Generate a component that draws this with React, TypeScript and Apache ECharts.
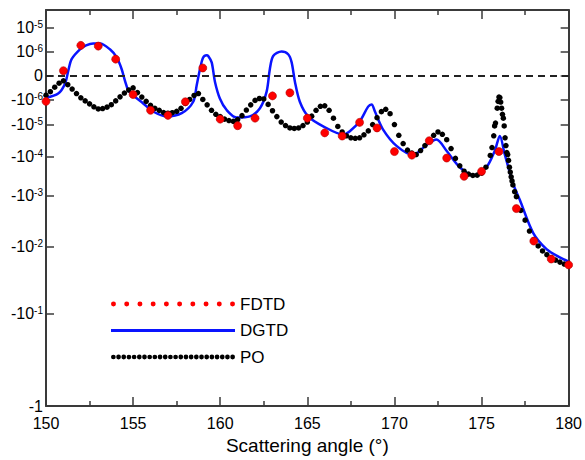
import React, { useEffect, useRef } from "react";
import * as echarts from "echarts";

const FONT = "'Liberation Sans', Arial, sans-serif";
const AXIS_COLOR = "#3a3a3a";

// ---- y axis: custom signed-log scale (tick values and their spacing along the axis) ----
const yTickValues = [1e-5, 1e-6, 0, -1e-6, -1e-5, -1e-4, -1e-3, -1e-2, -1e-1, -1];
const yTickLabels = ["10^-5", "10^-6", "0", "-10^-6", "-10^-5", "-10^-4", "-10^-3", "-10^-2", "-10^-1", "-1"];
const yTickSpacing = [385, 361, 336, 312, 286, 254, 214, 162, 94, 0];
const yAxisTop = 403;

// ---- x axis ----
const xMin = 150;
const xMax = 180;
const xStep = 5;

// ---- FDTD (red dots) ----
const fdtdAngle = [150, 151, 152, 153, 154, 155, 156, 157, 158, 159, 160, 161, 162, 163, 164, 165, 166, 167, 168, 169, 170, 171, 172, 173, 174, 175, 176, 177, 178, 179, 180];
const fdtdValue = [-1.19e-6, 2.1e-7, 1.78e-6, 1.66e-6, 6.8e-7, -7.9e-7, -2.65e-6, -4.2e-6, -1.23e-6, 3.2e-7, -5.9e-6, -1.05e-5, -5.4e-6, -8.5e-7, -7.2e-7, -5.4e-6, -1.78e-5, -2.25e-5, -7.9e-6, -1.24e-5, -6.98e-5, -9.1e-5, -3.16e-5, -1.1e-4, -3.2e-4, -2.4e-4, -6.98e-5, -1.78e-3, -7.7e-3, -1.52e-2, -1.86e-2];

// ---- DGTD (blue line) ----
const dgtdAngle = [150.0, 150.7, 151.09, 151.28, 151.47, 151.95, 152.3, 152.71, 153.1, 153.67, 154.06, 154.34, 154.53, 154.72, 155.0, 155.58, 156.15, 156.92, 157.79, 158.45, 158.65, 158.84, 159.02, 159.22, 159.31, 159.51, 159.7, 159.98, 160.37, 160.94, 161.7, 162.28, 162.66, 162.85, 163.04, 163.52, 163.9, 164.1, 164.29, 164.57, 165.05, 165.91, 167.06, 167.44, 168.01, 168.49, 168.69, 168.88, 169.35, 170.12, 171.07, 171.84, 172.41, 172.99, 173.75, 174.52, 175.28, 175.76, 176.05, 176.33, 176.81, 177.2, 177.96, 178.73, 179.49, 180.0];
const dgtdValue = [-9.3e-7, -7.5e-7, -3.3e-7, 2.1e-7, 6.8e-7, 1.21e-6, 1.78e-6, 2.15e-6, 2.15e-6, 1.21e-6, 7.5e-7, 2.8e-7, -2.0e-7, -6.1e-7, -8.2e-7, -1.43e-6, -2.97e-6, -4.6e-6, -3.45e-6, -1.23e-6, -4.0e-7, 2.8e-7, 7.5e-7, 8.4e-7, 8.1e-7, 5.5e-7, -2.6e-7, -9.6e-7, -2.6e-6, -5.1e-6, -4.6e-6, -2.2e-6, -6.8e-7, 2.8e-7, 8.1e-7, 9.9e-7, 8.8e-7, 5.5e-7, -2.6e-7, -1.23e-6, -4.6e-6, -1.1e-5, -2.0e-5, -1.57e-5, -7.2e-6, -1.91e-6, -1.56e-6, -2.97e-6, -1.4e-5, -4.6e-5, -8.9e-5, -4.3e-5, -2.9e-5, -6.6e-5, -1.88e-4, -3.04e-4, -1.88e-4, -6.6e-5, -2.25e-5, -8.5e-5, -4.9e-4, -1.21e-3, -5.3e-3, -1.08e-2, -1.44e-2, -1.66e-2];

// ---- PO (black dots) ----
const poAngle = [150, 150.25, 150.5, 150.75, 151, 151.25, 151.5, 151.75, 152, 152.25, 152.5, 152.75, 153, 153.25, 153.5, 153.75, 154, 154.25, 154.5, 154.75, 155, 155.25, 155.5, 155.75, 156, 156.25, 156.5, 156.75, 157, 157.25, 157.5, 157.75, 158, 158.25, 158.5, 158.75, 159, 159.25, 159.5, 159.75, 160, 160.25, 160.5, 160.75, 161, 161.25, 161.5, 161.75, 162, 162.25, 162.5, 162.75, 163, 163.25, 163.5, 163.75, 164, 164.25, 164.5, 164.75, 165, 165.25, 165.5, 165.75, 166, 166.25, 166.5, 166.75, 167, 167.25, 167.5, 167.75, 168, 168.25, 168.5, 168.75, 169, 169.25, 169.5, 169.75, 170, 170.25, 170.5, 170.75, 171, 171.25, 171.5, 171.75, 172, 172.25, 172.5, 172.75, 173, 173.25, 173.5, 173.75, 174, 174.25, 174.5, 174.75, 175, 175.25, 175.5, 175.6, 175.7, 175.75, 175.8, 175.9, 175.95, 176, 176.05, 176.1, 176.15, 176.2, 176.25, 176.3, 176.35, 176.4, 176.45, 176.5, 176.55, 176.6, 176.65, 176.7, 176.75, 176.8, 176.9, 177, 177.25, 177.5, 177.75, 178, 178.25, 178.5, 178.75, 179, 179.25, 179.5, 179.75, 180];
const poValue = [-8.2e-7, -6.7e-7, -4.8e-7, -3.1e-7, -2.1e-7, -3.75e-7, -5.6e-7, -7.5e-7, -9.3e-7, -1.14e-6, -1.49e-6, -1.94e-6, -2.36e-6, -2.28e-6, -2.0e-6, -1.6e-6, -1.14e-6, -8.9e-7, -7.3e-7, -6.0e-7, -5.1e-7, -7.1e-7, -9.0e-7, -1.19e-6, -1.7e-6, -2.22e-6, -2.65e-6, -3.25e-6, -3.45e-6, -3.3e-6, -2.9e-6, -2.22e-6, -1.43e-6, -1.0e-6, -8.3e-7, -7.5e-7, -1.0e-6, -1.63e-6, -2.65e-6, -3.8e-6, -4.7e-6, -5.9e-6, -6.7e-6, -7.2e-6, -6.1e-6, -4.3e-6, -2.6e-6, -1.63e-6, -1.09e-6, -9.6e-7, -9.8e-7, -1.56e-6, -2.77e-6, -4.7e-6, -7.7e-6, -1.04e-5, -1.24e-5, -1.29e-5, -1.24e-5, -1.04e-5, -7.7e-6, -4.5e-6, -2.65e-6, -1.86e-6, -1.78e-6, -2.65e-6, -5.4e-6, -1.11e-5, -1.66e-5, -2.2e-5, -2.55e-5, -2.64e-5, -2.55e-5, -2.05e-5, -1.54e-5, -9.6e-6, -5.2e-6, -3.0e-6, -2.43e-6, -3.6e-6, -9.6e-6, -2.13e-5, -3.9e-5, -6.3e-5, -7.8e-5, -8.7e-5, -6.5e-5, -4.5e-5, -3.05e-5, -2.13e-5, -1.66e-5, -1.98e-5, -2.94e-5, -5.6e-5, -1.12e-4, -1.73e-4, -2.37e-4, -2.82e-4, -3.04e-4, -2.99e-4, -2.66e-4, -1.88e-4, -9.3e-5, -5.2e-5, -2.2e-5, -1.07e-5, -8.4e-6, -2.2e-6, -1.19e-6, -9.0e-7, -9.2e-7, -1.27e-6, -2.2e-6, -3.8e-6, -5.4e-6, -1.07e-5, -2.55e-5, -4.5e-5, -7.5e-5, -8.7e-5, -1.26e-4, -1.88e-4, -2.5e-4, -3.3e-4, -4.2e-4, -5.3e-4, -7.9e-4, -1.04e-3, -1.94e-3, -3.0e-3, -4.9e-3, -7.3e-3, -9.6e-3, -1.15e-2, -1.31e-2, -1.45e-2, -1.58e-2, -1.69e-2, -1.81e-2, -1.9e-2];

// signed-log transform of a value onto the axis
function toAxis(v: number): number {
  const n = yTickValues.length;
  const seg = (i: number, x: number) => {
    const a = yTickValues[i], b = yTickValues[i + 1];
    const pa = yTickSpacing[i], pb = yTickSpacing[i + 1];
    if (a === 0 || b === 0) return pa + ((x - a) / (b - a)) * (pb - pa);
    const la = Math.log10(Math.abs(a)), lb = Math.log10(Math.abs(b)), lx = Math.log10(Math.abs(x));
    return pa + ((lx - la) / (lb - la)) * (pb - pa);
  };
  if (v >= yTickValues[0]) return seg(0, v);
  if (v <= yTickValues[n - 1]) return seg(n - 2, v);
  for (let i = 0; i < n - 1; i++) {
    if (v <= yTickValues[i] && v >= yTickValues[i + 1]) return seg(i, v);
  }
  return 0;
}

function dotsPath(count: number, width: number, r: number): string {
  const step = (width - 2 * r) / (count - 1);
  let d = "path://";
  for (let i = 0; i < count; i++) {
    const cx = r + i * step;
    d += `M${(cx - r).toFixed(2)} ${r}a${r} ${r} 0 1 0 ${2 * r} 0a${r} ${r} 0 1 0 ${-2 * r} 0Z`;
  }
  return d;
}

export default function App() {
  const ref = useRef<HTMLDivElement>(null);
  useEffect(() => {
    document.body.style.margin = "0";
    if (!ref.current) return;
    const chart = echarts.init(ref.current, undefined, { renderer: "svg" });

    const labelFmt = (val: number) => {
      const i = yTickSpacing.findIndex((p) => Math.abs(p - val) < 0.01);
      if (i < 0) return "";
      const s = yTickLabels[i];
      const k = s.indexOf("^");
      if (k < 0) return `{m|${s}}`;
      return `{m|${s.slice(0, k)}}{s|${s.slice(k + 1)}}`;
    };

    const xAxisBase = {
      type: "value",
      min: xMin,
      max: xMax,
      interval: xStep,
      axisLine: { show: true, onZero: false, lineStyle: { color: AXIS_COLOR, width: 2 } },
      axisTick: { show: true, inside: true, length: 9, lineStyle: { color: AXIS_COLOR, width: 1.5 } },
      minorTick: { show: true, splitNumber: 2, length: 5, lineStyle: { color: AXIS_COLOR, width: 1.5 } },
      splitLine: { show: false },
      minorSplitLine: { show: false },
    };
    const yAxisBase = {
      type: "value",
      min: 0,
      max: yAxisTop,
      axisLine: { show: true, onZero: false, lineStyle: { color: AXIS_COLOR, width: 2 } },
      axisTick: { show: true, inside: true, length: 8, customValues: yTickSpacing, lineStyle: { color: AXIS_COLOR, width: 1.5 } },
      splitLine: { show: false },
    };

    chart.setOption({
      animation: false,
      backgroundColor: "#ffffff",
      grid: { left: 46, right: 16, top: 10, bottom: 47, containLabel: false },
      legend: {
        orient: "vertical",
        left: 106,
        top: 289,
        itemWidth: 124,
        itemHeight: 8,
        itemGap: 6.5,
        selectedMode: false,
        itemStyle: { borderWidth: 0, opacity: 1 },
        textStyle: { fontSize: 17, lineHeight: 20, color: "#000", fontFamily: FONT },
        data: [
          { name: "FDTD", icon: dotsPath(10, 120, 2.4) },
          { name: "DGTD", icon: "path://M0 0L124 0L124 3L0 3Z" },
          { name: "PO", icon: dotsPath(24, 120, 2.3) },
        ],
      },
      xAxis: [
        {
          ...xAxisBase,
          position: "bottom",
          name: "Scattering angle (°)",
          nameLocation: "middle",
          nameGap: 25,
          nameTextStyle: { fontSize: 19, color: "#000", fontFamily: FONT },
          axisLabel: { show: true, fontSize: 16, color: "#000", fontFamily: FONT, margin: 9 },
        },
        { ...xAxisBase, position: "top", axisLabel: { show: false } },
      ],
      yAxis: [
        {
          ...yAxisBase,
          position: "left",
          axisLabel: {
            show: true,
            customValues: yTickSpacing,
            margin: 3,
            formatter: labelFmt,
            rich: {
              m: { fontSize: 16, lineHeight: 16, color: "#000", fontFamily: FONT },
              s: { fontSize: 10, lineHeight: 10, color: "#000", fontFamily: FONT, verticalAlign: "top" },
            },
          },
        },
        { ...yAxisBase, position: "right", axisLabel: { show: false } },
      ],
      series: [
        {
          name: "DGTD",
          type: "line",
          xAxisIndex: 0,
          yAxisIndex: 0,
          data: dgtdAngle.map((a, i) => [a, toAxis(dgtdValue[i])]),
          smooth: 0.3,
          symbol: "none",
          itemStyle: { color: "#0a14ff" },
          lineStyle: { color: "#0a14ff", width: 2.5 },
          z: 2,
          markLine: {
            silent: true,
            symbol: ["none", "none"],
            label: { show: false },
            lineStyle: { color: "#222", width: 2, type: [7, 5] },
            data: [{ yAxis: toAxis(0) }],
          },
        },
        {
          name: "PO",
          type: "scatter",
          xAxisIndex: 0,
          yAxisIndex: 0,
          data: poAngle.map((a, i) => [a, toAxis(poValue[i])]),
          symbol: "circle",
          symbolSize: 5.5,
          itemStyle: { color: "#000000", opacity: 1 },
          z: 3,
        },
        {
          name: "FDTD",
          type: "scatter",
          xAxisIndex: 0,
          yAxisIndex: 0,
          data: fdtdAngle.map((a, i) => [a, toAxis(fdtdValue[i])]),
          symbol: "circle",
          symbolSize: 8,
          itemStyle: { color: "#ff0000", borderColor: "#b00000", borderWidth: 0.6, opacity: 1 },
          z: 4,
        },
      ],
    });
    return () => chart.dispose();
  }, []);
  return <div ref={ref} style={{ width: 585, height: 460 }} />;
}
